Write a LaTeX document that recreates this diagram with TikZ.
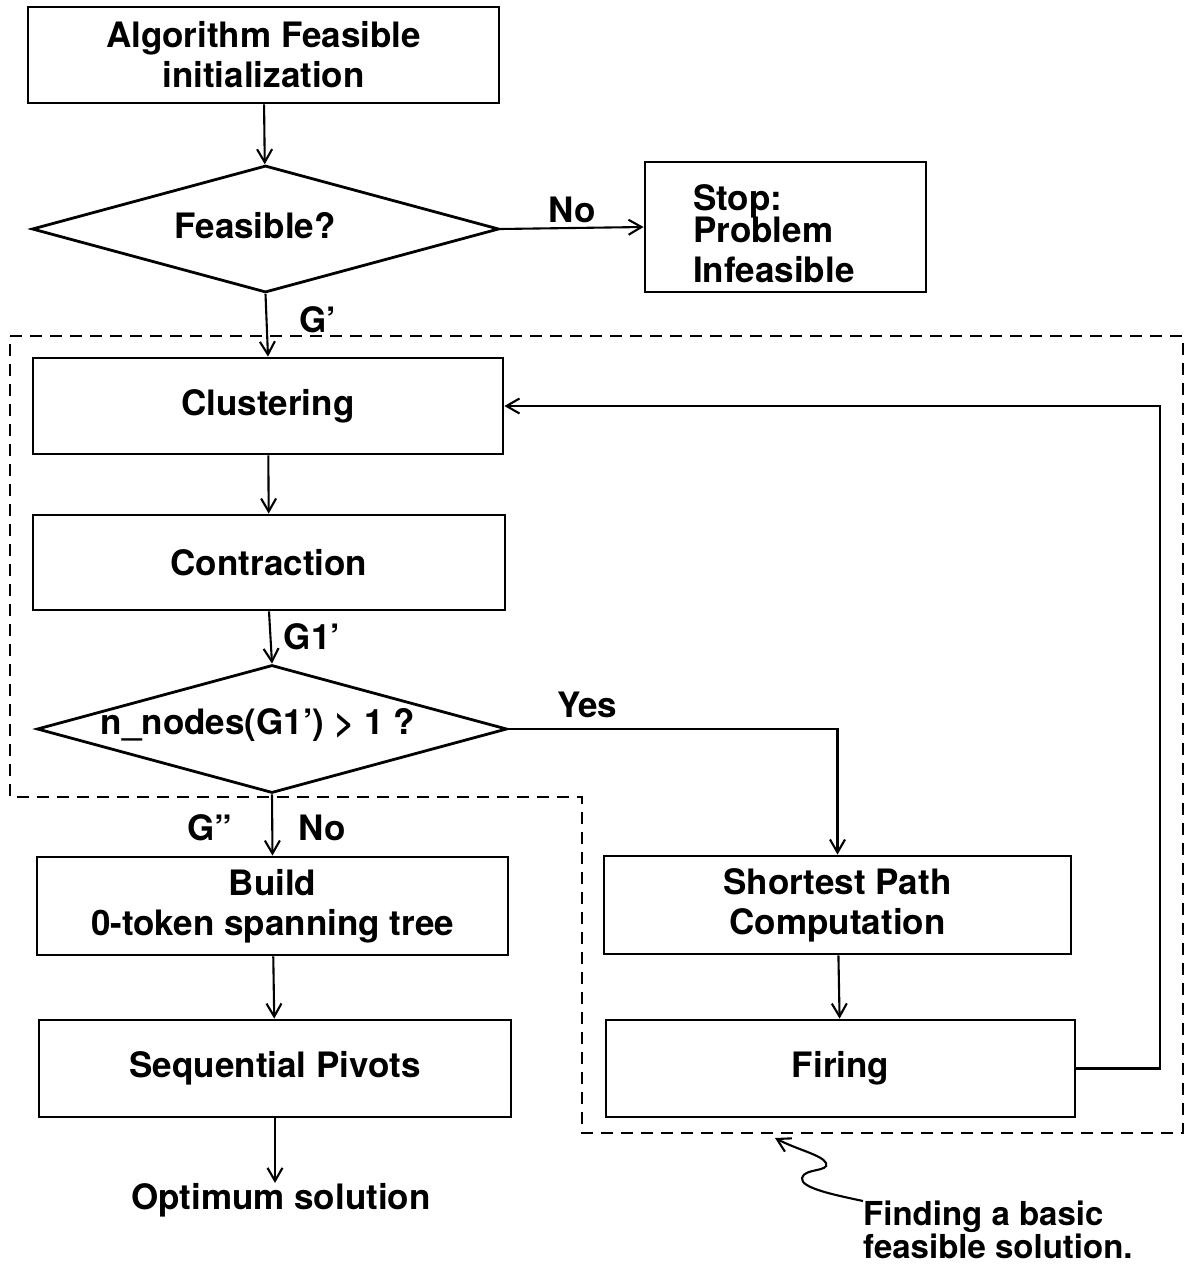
\documentclass[tikz,border=0pt]{standalone}
\usepackage{fontspec}
\setmainfont{TeX Gyre Heros}
\usetikzlibrary{shapes.geometric,arrows.meta}

\begin{document}
\begin{tikzpicture}[x=1pt,y=-1pt,
  every node/.style={font=\bfseries\fontsize{35}{40}\selectfont},
  box/.style={draw,line width=2.8pt,inner sep=0pt,align=center},
  decision/.style={diamond,draw,line width=2.8pt,inner sep=0pt,aspect=3.68},
  txt/.style={inner sep=0pt},
  conn/.style={line width=2.1pt,-{Straight Barb[length=13pt,width=15pt]}},
  region/.style={line width=2.6pt,dash pattern=on 12pt off 8pt}]

\useasboundingbox[fill=white] (0,0) rectangle (1185,1266);

% main column
\node[box,minimum width=471pt,minimum height=96pt] (init) at (263.5,55)
  {Algorithm Feasible\\initialization};
\node[decision,minimum width=467pt,minimum height=127pt] (feas) at (265.5,229) {};
\node[txt] (feastxt) at (255,226) {Feasible?};

\node[box,minimum width=281pt,minimum height=130pt] (stop) at (785.5,227) {};
\node[txt,anchor=north west,align=left] (stoptxt) at (693,184)
  {Stop:\\[-8pt]Problem\\Infeasible};

\node[box,minimum width=470pt,minimum height=96pt] (clus) at (268,406) {Clustering};
\node[box,minimum width=472pt,minimum height=95pt] (contr) at (269,562.5) {Contraction};

\node[decision,minimum width=470pt,minimum height=128pt] (nn) at (272,729) {};
\node[txt] (nntxt) at (258,725) {n\_nodes(G1’) > 1 ?};

\node[box,minimum width=471pt,minimum height=98pt] (build) at (272.5,906)
  {Build\\0-token spanning tree};
\node[box,minimum width=472pt,minimum height=97pt] (seq) at (275,1068.5) {Sequential Pivots};
\node[txt] (opt) at (281,1200) {Optimum solution};

% right column
\node[box,minimum width=467pt,minimum height=98pt] (sp) at (837.5,905)
  {Shortest Path\\Computation};
\node[box,minimum width=469pt,minimum height=97pt] (fire) at (840.5,1068.5) {Firing};

% connectors
\draw[conn] (init) -- (feas);
\draw[conn] (feas.east) -- (stop.west);
\draw[conn] (feas.south) -- (clus.north);
\draw[conn] (clus) -- (contr);
\draw[conn] (contr.south) -- (nn.north);
\draw[conn] (nn.east) -| (sp.north);
\draw[conn] (nn.south) -- (build.north);
\draw[conn] (build) -- (seq);
\draw[conn] (seq.south) -- (seq.south |- opt.north);
\draw[conn] (sp) -- (fire);
\coordinate (back) at (1160,1068);
\draw[conn] (fire.east) -- (fire.east -| back) |- (clus.east);

% edge labels
\node[txt] (lno1) at (572,210) {No};
\node[txt] (lg1) at (318,320) {G’};
\node[txt] (lg2) at (312,637) {G1’};
\node[txt] (lyes) at (587,705) {Yes};
\node[txt] (lg3) at (210,828) {G”};
\node[txt] (lno2) at (322,828) {No};

% region of the basic feasible solution search
\draw[region] (10,336) -- (1183,336) -- (1183,1133) -- (582,1133)
  -- (582,797) -- (10,797) -- cycle;

% annotation
\node[txt,anchor=north west,align=left,font=\bfseries\fontsize{33}{30}\selectfont]
  (note) at (863,1201) {Finding a basic\\feasible solution.};
\coordinate (tip) at (775,1138);
\draw[line width=2.1pt,-{Straight Barb[length=13pt,width=15pt]}]
  (note.north west) .. controls (835,1195) and (800,1188) .. (802,1178)
  .. controls (804,1168) and (830,1172) .. (826,1163)
  .. controls (822,1155) and (798,1150) .. (tip);

\end{tikzpicture}
\end{document}
